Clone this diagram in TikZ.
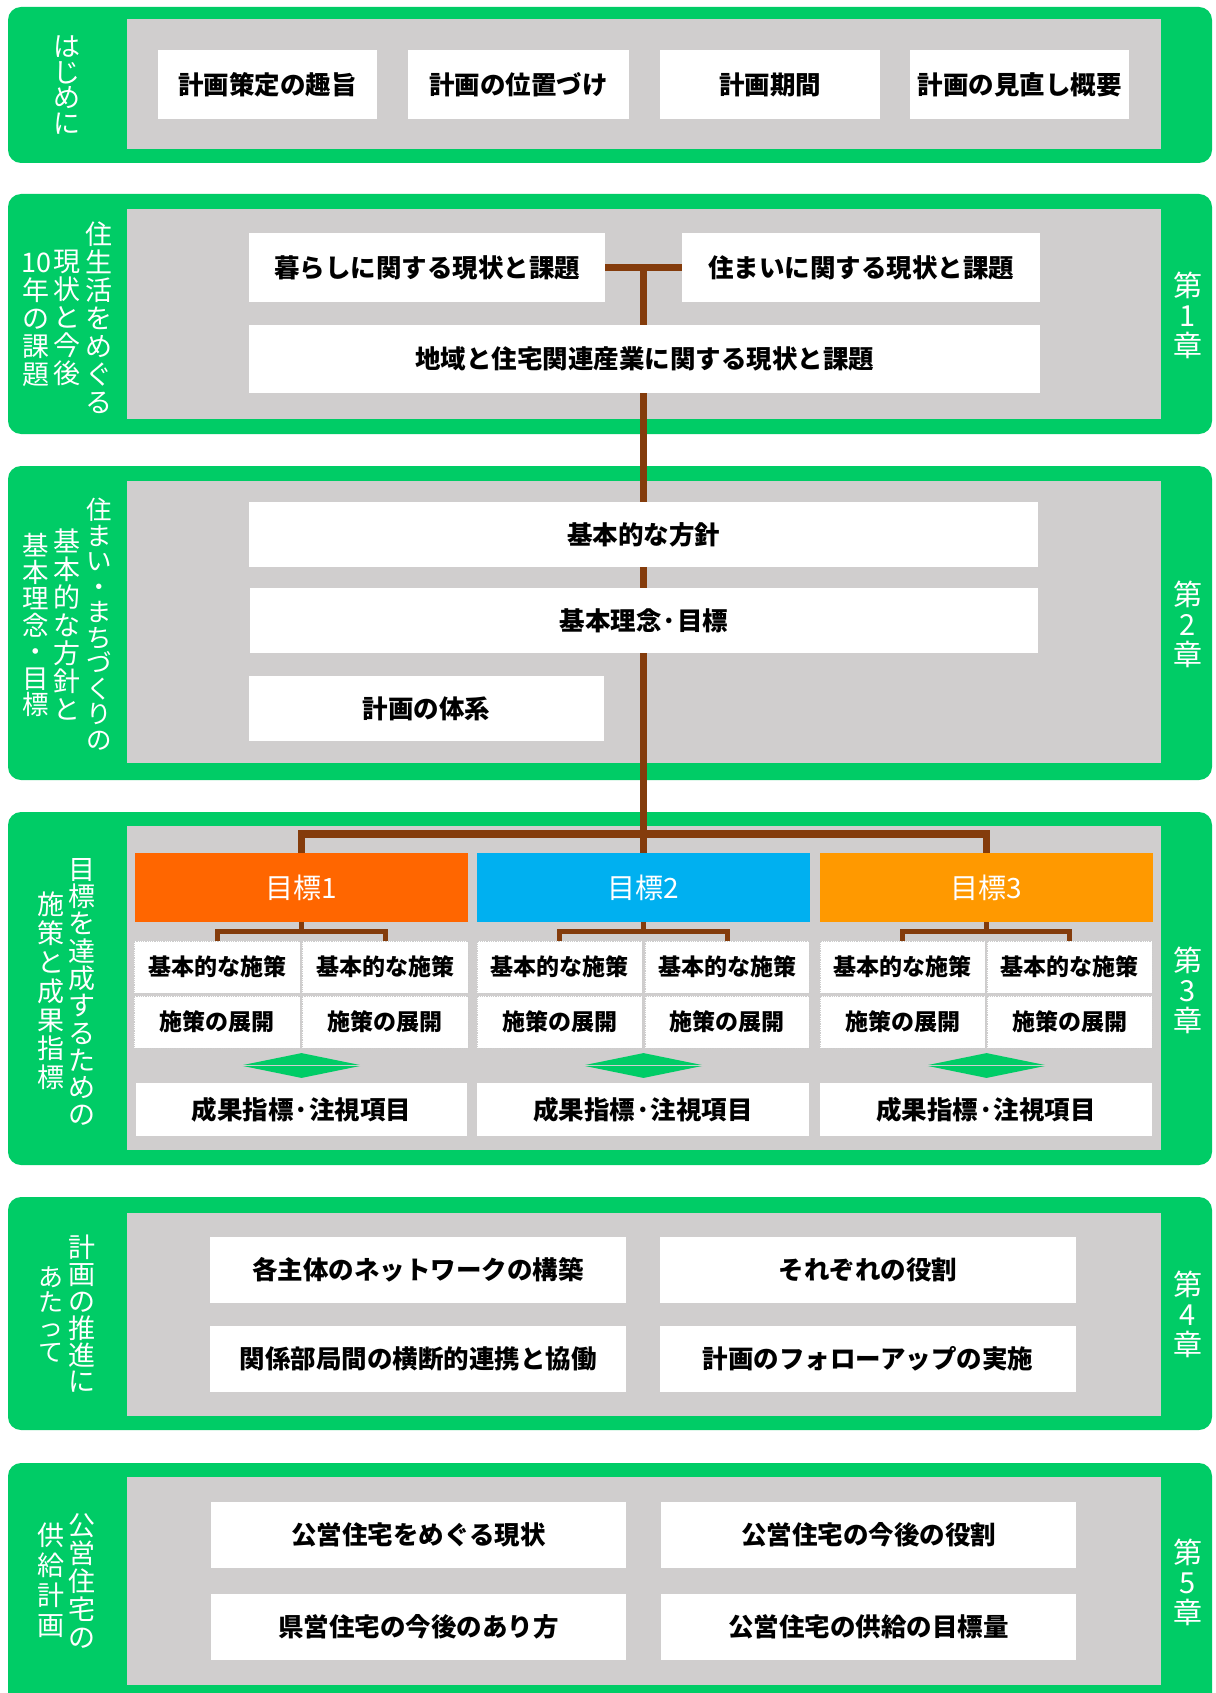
\documentclass[tikz,border=0pt]{standalone}
\usepackage{fontspec}
\setmainfont{Noto Sans CJK JP}
\usetikzlibrary{shapes.geometric}
\definecolor{grn}{RGB}{0,204,102}
\definecolor{gry}{RGB}{208,206,206}
\definecolor{brn}{RGB}{132,60,12}
\definecolor{og1}{RGB}{255,102,0}
\definecolor{bl2}{RGB}{0,176,240}
\definecolor{og3}{RGB}{255,153,0}
\pgfdeclarelayer{back}
\pgfdeclarelayer{mid}
\pgfsetlayers{back,mid,main}
\newcommand\bx[7][wbox]{\node[#1, minimum width={#5pt-#3pt}, minimum height={#6pt-#4pt}] (#2) at ({(#3+#5)/2},{(#4+#6)/2}) {#7};}
\begin{document}
\begin{tikzpicture}[x=1pt,y=-1pt,
  wbox/.style={fill=white,inner sep=0pt,outer sep=0pt,text=black,font=\bfseries\fontsize{25.5}{30}\selectfont},
  sbox/.style={wbox,draw=black!20,densely dotted,line width=0.8pt,font=\bfseries\fontsize{23}{28}\selectfont},
  gbox/.style={inner sep=0pt,outer sep=0pt,text=white,font=\fontsize{28}{30}\selectfont},
  vlab/.style={text=white,align=center,inner sep=0pt,font=\fontsize{27}{28}\selectfont},
  chap/.style={text=white,align=center,inner sep=0pt,font=\fontsize{29}{30}\selectfont},
  conn/.style={draw=brn,line width=7.5pt},
  brk/.style={draw=brn,line width=5pt},
  dia/.style={diamond,fill=grn,inner sep=0pt,minimum width=122pt,minimum height=25pt},
  grnbg/.style={fill=grn,rounded corners=13pt},
  grybg/.style={fill=gry}]
\useasboundingbox (0,0) rectangle (1215,1693);

% ---------- section backgrounds
\begin{pgfonlayer}{back}
\fill[white] (0,0) rectangle (1215,1693);
\fill[grnbg] (8,7) rectangle (1212,163);
\fill[grybg] (126.5,19) rectangle (1161,149);
\fill[grnbg] (8,194) rectangle (1212,434);
\fill[grybg] (126.5,209) rectangle (1161,419);
\fill[grnbg] (8,466) rectangle (1212,780);
\fill[grybg] (126.5,481) rectangle (1161,763);
\fill[grnbg] (8,812) rectangle (1212,1165);
\fill[grybg] (126.5,826) rectangle (1161,1150);
\fill[grnbg] (8,1197) rectangle (1212,1430);
\fill[grybg] (126.5,1213) rectangle (1161,1416);
\fill[grnbg] (8,1463) rectangle (1212,1730);
\fill[grybg] (126.5,1477) rectangle (1161,1685);
\end{pgfonlayer}

% ---------- section 1
\bx{p1}{158}{50}{377}{119}{計画策定の趣旨}
\bx{p2}{408}{50}{629}{119}{計画の位置づけ}
\bx{p3}{660}{50}{880}{119}{計画期間}
\bx{p4}{910}{50}{1129}{119}{計画の見直し概要}
\node[vlab,font=\fontsize{27}{25.5}\selectfont] (l1) at (67,85) {は\\じ\\め\\に};

% ---------- section 2
\bx{kur}{249}{233}{605}{302}{暮らしに関する現状と課題}
\bx{sum}{682}{233}{1040}{302}{住まいに関する現状と課題}
\bx{chi}{249}{325}{1040}{393}{地域と住宅関連産業に関する現状と課題}
\node[vlab] (l2a) at (99,318) {住\\生\\活\\を\\め\\ぐ\\る};
\node[vlab] (l2b) at (67,318) {現\\状\\と\\今\\後};
\node[vlab] (l2c) at (36,320) {10\\年\\の\\課\\題};
\node[chap] (c1) at (1188,315) {第\\1\\章};

% ---------- section 3
\bx{hou}{249}{502}{1038}{567}{基本的な方針}
\bx{rin}{250}{588}{1038}{653}{基本理念·目標}
\bx{tai}{249}{676}{604}{741}{計画の体系}
\node[vlab,font=\fontsize{25.5}{25.5}\selectfont] (l3a) at (99,624) {住\\ま\\い\\・\\ま\\ち\\づ\\く\\り\\の};
\node[vlab] (l3b) at (67,625) {基\\本\\的\\な\\方\\針\\と};
\node[vlab,font=\fontsize{26.5}{26.5}\selectfont] (l3c) at (36,625) {基\\本\\理\\念\\・\\目\\標};
\node[chap] (c2) at (1188,624) {第\\2\\章};

% ---------- section 4
\bx[gbox,fill=og1]{g1}{135}{853}{468}{922}{目標1}
\bx[gbox,fill=bl2]{g2}{477}{853}{810}{922}{目標2}
\bx[gbox,fill=og3]{g3}{820}{853}{1153}{922}{目標3}

\bx[sbox]{k1a}{134}{941}{300}{993}{基本的な施策}
\bx[sbox]{k1b}{302}{941}{468}{993}{基本的な施策}
\bx[sbox]{t1a}{134}{996}{300}{1048}{施策の展開}
\bx[sbox]{t1b}{302}{996}{468}{1048}{施策の展開}
\bx[sbox]{k2a}{477}{941}{642}{993}{基本的な施策}
\bx[sbox]{k2b}{645}{941}{809}{993}{基本的な施策}
\bx[sbox]{t2a}{477}{996}{642}{1048}{施策の展開}
\bx[sbox]{t2b}{645}{996}{809}{1048}{施策の展開}
\bx[sbox]{k3a}{820}{941}{985}{993}{基本的な施策}
\bx[sbox]{k3b}{987}{941}{1152}{993}{基本的な施策}
\bx[sbox]{t3a}{820}{996}{985}{1048}{施策の展開}
\bx[sbox]{t3b}{987}{996}{1152}{1048}{施策の展開}

\node[dia] (d1) at (301.5,1065.5) {};
\node[dia] (d2) at (643.5,1065.5) {};
\node[dia] (d3) at (986.5,1065.5) {};
\draw[gry,line width=1.5pt] (d1.west) -- (d1.east);
\draw[gry,line width=1.5pt] (d2.west) -- (d2.east);
\draw[gry,line width=1.5pt] (d3.west) -- (d3.east);

\bx{r1}{136}{1083}{467}{1136}{成果指標·注視項目}
\bx{r2}{477}{1083}{809}{1136}{成果指標·注視項目}
\bx{r3}{820}{1083}{1152}{1136}{成果指標·注視項目}

\node[vlab,font=\fontsize{27}{27.3}\selectfont] (l4a) at (82,992) {目\\標\\を\\達\\成\\す\\る\\た\\め\\の};
\node[vlab,font=\fontsize{27}{28.8}\selectfont] (l4b) at (51,991) {施\\策\\と\\成\\果\\指\\標};
\node[chap] (c3) at (1188,990) {第\\3\\章};

% ---------- section 5
\bx{n1}{210}{1237}{626}{1303}{各主体のネットワークの構築}
\bx{n2}{210}{1326}{626}{1392}{関係部局間の横断的連携と協働}
\bx{n3}{660}{1237}{1076}{1303}{それぞれの役割}
\bx{n4}{660}{1326}{1076}{1392}{計画のフォローアップの実施}
\node[vlab,font=\fontsize{27}{26.8}\selectfont] (l5a) at (82,1314) {計\\画\\の\\推\\進\\に};
\node[vlab,font=\fontsize{25}{25}\selectfont] (l5b) at (51,1314) {あ\\た\\っ\\て};
\node[chap] (c4) at (1188,1314) {第\\4\\章};

% ---------- section 6
\bx{m1}{211}{1502}{626}{1568}{公営住宅をめぐる現状}
\bx{m2}{211}{1594}{626}{1660}{県営住宅の今後のあり方}
\bx{m3}{661}{1502}{1076}{1568}{公営住宅の今後の役割}
\bx{m4}{661}{1594}{1076}{1660}{公営住宅の供給の目標量}
\node[vlab] (l6a) at (82,1581) {公\\営\\住\\宅\\の};
\node[vlab,font=\fontsize{27}{30}\selectfont] (l6b) at (51,1580) {供\\給\\計\\画};
\node[chap] (c5) at (1188,1582) {第\\5\\章};

% ---------- connectors
\begin{pgfonlayer}{mid}
\draw[conn] (kur.east) -- (sum.west);
\draw[conn] (g2.north |- kur.east) -- (g2.north);
\draw[conn] (g1.north) -- ++(0,-19) -| (g3.north);
\draw[brk] (g1.south) -- ++(0,9) coordinate (j1);
\draw[brk] (k1a.north) |- (j1) -| (k1b.north);
\draw[brk] (g2.south) -- ++(0,9) coordinate (j2);
\draw[brk] (k2a.north) |- (j2) -| (k2b.north);
\draw[brk] (g3.south) -- ++(0,9) coordinate (j3);
\draw[brk] (k3a.north) |- (j3) -| (k3b.north);
\end{pgfonlayer}
\end{tikzpicture}
\end{document}
